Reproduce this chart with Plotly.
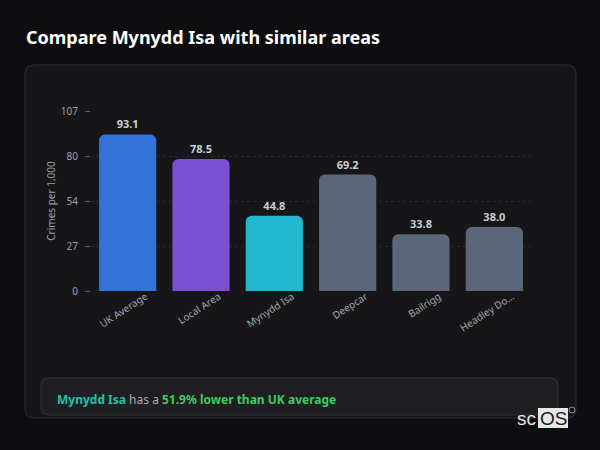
import plotly.graph_objects as go

categories = ["UK Average", "Local Area", "Mynydd Isa", "Deepcar", "Bailrigg", "Headley Do..."]
values = [93.1, 78.5, 44.8, 69.2, 33.8, 38.0]
bar_colors = ["#3373d9", "#7a50d4", "#22b8d0", "#5b6679", "#5b6679", "#5b6679"]
y_tick_vals = [0, 26.75, 53.5, 80.25, 107]
y_tick_text = ["0", "27", "54", "80", "107"]
y_max = 107

W, H = 600, 450
L, R, T, B = 91, 69, 111, 159
PW, PH = W - L - R, H - T - B


def px2paper(x, y):
    return (x - L) / PW, (H - B - y) / PH


def rrect(x0, y0, x1, y1, r):
    def P(x, y):
        a, b = px2paper(x, y)
        return f"{a:.5f},{b:.5f}"
    return (f"M {P(x0 + r, y0)} L {P(x1 - r, y0)} Q {P(x1, y0)} {P(x1, y0 + r)} "
            f"L {P(x1, y1 - r)} Q {P(x1, y1)} {P(x1 - r, y1)} "
            f"L {P(x0 + r, y1)} Q {P(x0, y1)} {P(x0, y1 - r)} "
            f"L {P(x0, y0 + r)} Q {P(x0, y0)} {P(x0 + r, y0)} Z")


fig = go.Figure()
fig.add_trace(go.Bar(
    x=categories, y=values,
    marker=dict(color=bar_colors, line=dict(width=0)),
    text=[f"{v:.1f}" for v in values],
    textposition="outside",
    textfont=dict(family="Noto Sans", size=11, color="#c9cdd3", weight="bold"),
    cliponaxis=False,
    hoverinfo="skip",
))

shapes = [
    dict(type="path", xref="paper", yref="paper", layer="below",
         path=rrect(25, 65, 576, 418, 9),
         fillcolor="#161619", line=dict(color="#2d2d33", width=1)),
    dict(type="path", xref="paper", yref="paper", layer="below",
         path=rrect(41, 378, 558, 415, 8),
         fillcolor="#1e1e23", line=dict(color="#35353b", width=1)),
    dict(type="rect", xref="paper", yref="paper", layer="above",
         x0=px2paper(538, 0)[0], x1=px2paper(568, 0)[0],
         y0=px2paper(0, 428)[1], y1=px2paper(0, 408)[1],
         fillcolor="#e6e6e6", line=dict(width=0)),
    dict(type="circle", xref="paper", yref="paper", layer="above",
         x0=px2paper(569, 0)[0], x1=px2paper(575, 0)[0],
         y0=px2paper(0, 413)[1], y1=px2paper(0, 407)[1],
         fillcolor="rgba(0,0,0,0)", line=dict(color="#8a8a90", width=1)),
]

tx, ty = px2paper(24, 37)
cx, cy = px2paper(55, 399)
lx, ly = px2paper(538, 418)
ox, oy = px2paper(553, 418)
annotations = [
    dict(text="<b>Compare Mynydd Isa with similar areas</b>", x=tx, y=ty,
         xref="paper", yref="paper", xanchor="left", yanchor="middle", showarrow=False,
         font=dict(family="Noto Sans", size=18, color="#ffffff")),
    dict(text="<b><span style='color:#1fc4a6'>Mynydd Isa</span></b> has a "
              "<b><span style='color:#3ecb5e'>51.9% lower than UK average</span></b>",
         x=cx, y=cy, xref="paper", yref="paper", xanchor="left", yanchor="middle",
         showarrow=False, font=dict(family="Noto Sans", size=12, color="#a9adb3")),
    dict(text="sc", x=lx, y=ly, xref="paper", yref="paper", xanchor="right", yanchor="middle",
         showarrow=False, font=dict(family="Liberation Sans", size=19, color="#e6e6e6")),
    dict(text="OS", x=ox, y=oy, xref="paper", yref="paper", xanchor="center", yanchor="middle",
         showarrow=False, font=dict(family="Liberation Sans", size=19, color="#1b1b1f")),
]

fig.update_layout(
    width=W, height=H,
    margin=dict(l=L, r=R, t=T, b=B, pad=0),
    paper_bgcolor="#0e0e11",
    plot_bgcolor="rgba(0,0,0,0)",
    bargap=0.22,
    barcornerradius=6,
    showlegend=False,
    shapes=shapes,
    annotations=annotations,
    font=dict(family="Noto Sans", color="#9aa0a8"),
    xaxis=dict(
        tickangle=-33, tickfont=dict(size=10, color="#a0a5ad"),
        ticklabelshift=18, ticklabelstandoff=-3,
        showgrid=False, zeroline=False, showline=False, ticks="",
        fixedrange=True,
    ),
    yaxis=dict(
        range=[0, y_max], tickvals=y_tick_vals, ticktext=y_tick_text,
        tickfont=dict(size=10, color="#9aa0a8"),
        ticks="outside", ticklen=5, tickcolor="#55585e", tickwidth=1,
        ticklabelstandoff=5,
        showgrid=True, gridcolor="#2a2a30", griddash="dot", gridwidth=1,
        zeroline=False, showline=False,
        title=dict(text="Crimes per 1,000", font=dict(size=10, color="#9aa0a8"), standoff=3),
        fixedrange=True,
    ),
)

fig.write_html("out.html", config={"displayModeBar": False},
               post_script="document.body.style.margin='0';document.body.style.background='#0e0e11';")
